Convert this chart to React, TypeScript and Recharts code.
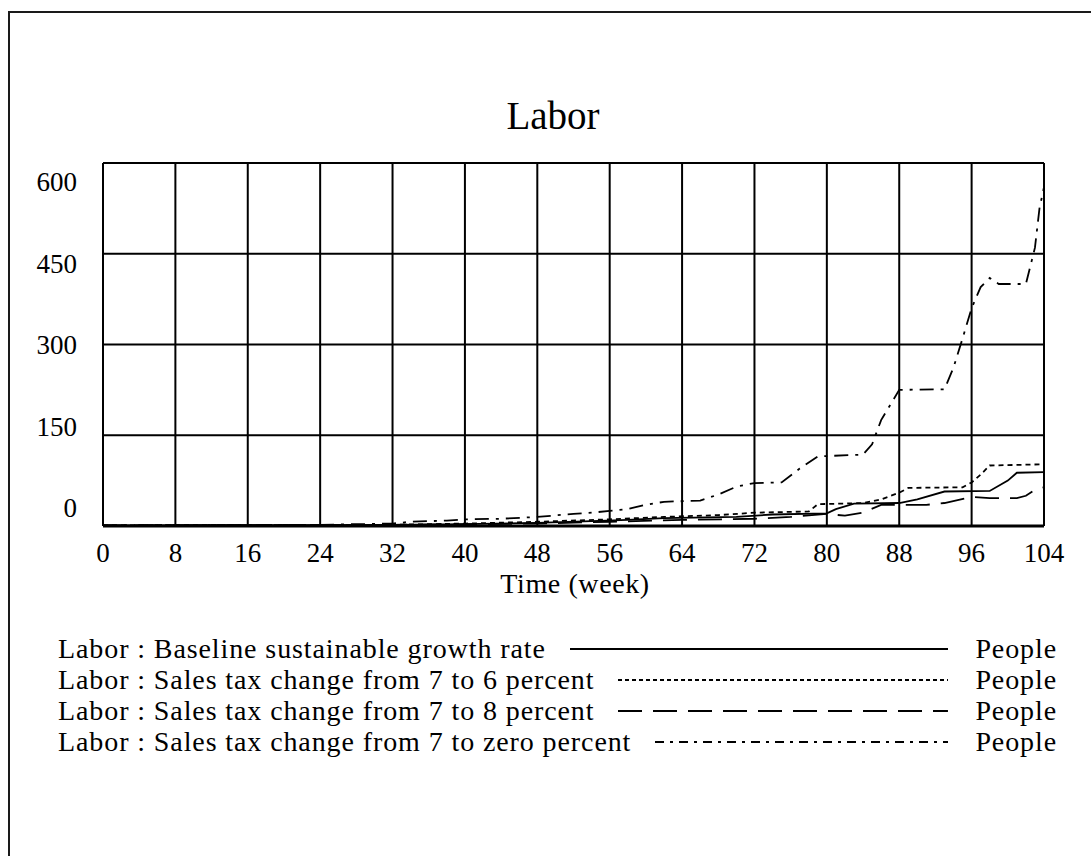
import React from 'react';
import { LineChart, Line, XAxis, YAxis, CartesianGrid } from 'recharts';

const serif = "'Liberation Serif', 'Times New Roman', serif";

const weekTicks = [0, 8, 16, 24, 32, 40, 48, 56, 64, 72, 80, 88, 96, 104];
const peopleTicks = [0, 150, 300, 450, 600];

const baselineWeeks = [0, 32, 40, 48, 54, 58, 62, 70, 74, 80, 81, 83, 88, 90, 93, 98, 100, 101, 104];
const baselineValues = [1, 2, 3, 5, 8, 10, 13, 15, 19, 21, 28, 37, 38, 44, 57, 58, 75, 88, 89];

const sixWeeks = [0, 32, 40, 48, 56, 62, 68, 72, 78, 79, 84, 86, 88, 89, 95, 96, 97, 98, 104];
const sixValues = [1, 2, 4, 7, 11, 15, 18, 22, 24, 36, 38, 44, 55, 63, 64, 72, 85, 100, 102];

const eightWeeks = [0, 32, 48, 56, 64, 72, 76, 80, 82, 84, 86, 91, 93, 96, 98, 101, 102, 103, 104];
const eightValues = [1, 2, 4, 7, 10, 12, 15, 20, 17, 22, 35, 35, 38, 48, 46, 46, 50, 60, 64];

const zeroWeeks = [0, 24, 32, 34, 38, 40, 44, 48, 52, 54, 56, 58, 60, 62, 66, 68, 70, 72, 75, 77, 79, 84, 85, 86, 88, 93, 94, 95, 96, 97, 98, 99, 102, 103, 103.5, 104];
const zeroValues = [1, 2, 4, 7, 9, 11, 12, 15, 20, 22, 25, 28, 35, 40, 42, 52, 65, 71, 72, 95, 115, 118, 135, 175, 225, 226, 262, 310, 360, 395, 410, 400, 400, 460, 525, 560];

const toRows = (weeks: number[], values: number[]) => weeks.map((w, i) => ({ week: w, labor: values[i] }));

const series = [
  { name: 'Labor : Baseline sustainable growth rate', data: toRows(baselineWeeks, baselineValues), dash: undefined, key: undefined },
  { name: 'Labor : Sales tax change from 7 to 6 percent', data: toRows(sixWeeks, sixValues), dash: '5 4', key: '4 3' },
  { name: 'Labor : Sales tax change from 7 to 8 percent', data: toRows(eightWeeks, eightValues), dash: '24 11', key: '24 11' },
  { name: 'Labor : Sales tax change from 7 to zero percent', data: toRows(zeroWeeks, zeroValues), dash: '14 7 3 7', key: '9 6 3 6' },
];

const YTick = (props: any) => {
  const { x, y, payload } = props;
  const i = peopleTicks.indexOf(payload.value);
  return (
    <text x={x} y={y - 9 + 9.25 * i} textAnchor="end" fill="#000" fontSize={27} fontFamily={serif}>
      {payload.value}
    </text>
  );
};

const XTick = (props: any) => {
  const { x, y, payload } = props;
  return (
    <text x={x} y={y} textAnchor="middle" fill="#000" fontSize={27} fontFamily={serif}>
      {payload.value}
    </text>
  );
};

export default function App() {
  return (
    <div style={{ position: 'relative', width: 1091, height: 856, background: '#fff', overflow: 'hidden' }}>
      <style>{'body{margin:0}'}</style>
      <div style={{ position: 'absolute', left: 8, top: 11, right: 0, bottom: 0, borderTop: '2px solid #1a1a1a', borderLeft: '2px solid #1a1a1a' }} />
      <LineChart width={1091} height={856} margin={{ top: 163, right: 47, left: 43, bottom: 290 }}>
        <CartesianGrid stroke="#000" strokeWidth={2} strokeOpacity={1} />
        <XAxis
          dataKey="week"
          type="number"
          domain={[0, 104]}
          ticks={weekTicks}
          height={40}
          tickSize={0}
          tickMargin={36}
          tick={<XTick />}
          axisLine={{ stroke: '#000', strokeWidth: 3 }}
          allowDuplicatedCategory={false}
        />
        <YAxis
          type="number"
          domain={[0, 600]}
          ticks={peopleTicks}
          width={60}
          tickSize={0}
          tickMargin={26}
          tick={<YTick />}
          axisLine={{ stroke: '#000', strokeWidth: 2 }}
        />
        {series.map((s) => (
          <Line
            key={s.name}
            data={s.data}
            dataKey="labor"
            name={s.name}
            type="linear"
            stroke="#000"
            strokeWidth={1.8}
            strokeDasharray={s.dash}
            dot={false}
            isAnimationActive={false}
          />
        ))}
      </LineChart>
      <svg width={1091} height={856} style={{ position: 'absolute', left: 0, top: 0, pointerEvents: 'none' }}>
        <text x={553} y={129} textAnchor="middle" fontSize={39} fontFamily={serif} fill="#000">Labor</text>
        <text x={575} y={593} textAnchor="middle" fontSize={28} fontFamily={serif} fill="#000" letterSpacing={0.6}>Time (week)</text>
      </svg>
      <div style={{ position: 'absolute', left: 58, top: 633, width: 999, fontFamily: serif, fontSize: 28, letterSpacing: 0.9, color: '#000' }}>
        {series.map((s) => (
          <div key={s.name} style={{ display: 'flex', alignItems: 'center', height: 31, lineHeight: '31px', whiteSpace: 'nowrap' }}>
            <span>{s.name}</span>
            <svg height={31} style={{ flex: 1, marginLeft: 24, marginRight: 27 }}>
              <line x1={0} x2="100%" y1={16} y2={16} stroke="#000" strokeWidth={1.8} strokeDasharray={s.key} />
            </svg>
            <span>People</span>
          </div>
        ))}
      </div>
    </div>
  );
}
